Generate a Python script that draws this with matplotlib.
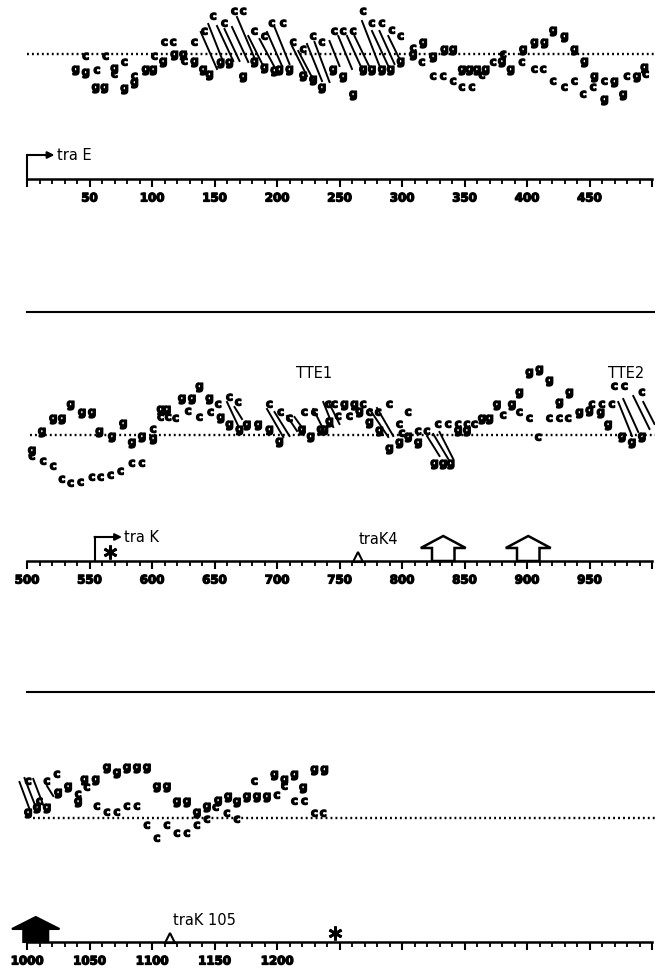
import numpy as np
import matplotlib
matplotlib.use('Agg')
import matplotlib.pyplot as plt
import matplotlib.patheffects as pe
from matplotlib.patches import FancyArrow
from matplotlib.lines import Line2D

# ---- data: position (bp), level above the dotted line, letter ----
p1_pos = [47, 63, 39, 47, 56, 78, 70, 70, 55, 62, 78, 86, 86, 95, 101, 102, 109, 110, 117, 118,
          125, 126, 134, 134, 141, 146, 142, 149, 158, 166, 173, 155, 162, 173, 182, 182, 190, 196, 205, 190,
          198, 202, 210, 213, 221, 221, 229, 236, 229, 236,
          246, 253, 261, 269, 276, 284, 292, 299, 245, 253, 261, 269, 276, 284, 291, 299, 309, 309, 317, 316,
          325, 334, 341, 325, 333, 341, 348, 356, 348, 354, 360, 367, 364, 373, 380, 381, 387, 396, 397, 406,
          413, 406, 414, 421, 430, 438, 446, 421, 430, 438, 445, 453, 454, 462, 470, 462, 477, 480, 488, 495, 494]
p1_lvl = [-2, -2, -15, -18, -16, -8, -14, -20, -33, -33, -34, -28, -22, -15, -15, -2, -7, 12, 12, 0,
          0, -7, -7, 12, -15, -20, 23, 38, 31, 43, 43, -8, -8, -22, -7, 23, 18, 31, 31, -13,
          -16, -15, -15, 12, 5, -21, -25, -33, 18, 12,
          23, 23, 23, 43, 31, 31, 24, 18, -15, -22, -40, -15, -15, -15, -15, -7, 6, 0, 12, -8,
          -2, 5, 5, -22, -22, -27, -33, -33, -15, -15, -15, -15, -21, -8, -7, 0, -15, -8, 5, -15,
          -15, 12, 12, 24, 18, 5, -7, -27, -33, -27, -40, -33, -22, -27, -27, -45, -40, -22, -22, -20, -13]
p1_seq = ("ccggccgcgg" "ggcggcgccg" "gcgcggcccc" "cggggccccg" "gggccgggcc"
          "ccccccccgg" "ggggggcggc" "gggcccccgg" "ggccgcgcgc" "cggggggccc" "ccgcgggcgc" "g")

p2_pos = [512, 521, 528, 535, 544, 552, 558, 568, 577, 584, 592, 601, 601,
          504, 504, 513, 521,
          528, 535, 543, 552, 559, 567, 575,
          584, 592, 607, 612, 607, 613, 619,
          624, 632, 638, 629, 638, 646, 647, 653, 662, 669,
          655, 662, 670, 676, 685, 694, 702, 694, 703, 710,
          722, 730, 720, 727, 735, 741, 746, 754, 762, 769,
          742, 749, 758, 738, 766, 774, 781, 790, 774, 782,
          805, 798, 800, 790, 798, 805, 813, 813, 820,
          826, 833, 839, 829, 837, 845, 852, 858, 845, 852,
          864, 870, 881, 876, 888, 894, 902, 910, 918,
          894, 902, 909, 918, 926, 933,
          926, 934, 942, 950, 959, 952, 960, 968, 965,
          970, 978, 992, 976, 984, 992]
p2_lvl = [4, 17, 17, 31, 23, 23, 4, -1, 12, -7, -1, 6, -3,
          -15, -21, -26, -31,
          -44, -48, -47, -42, -42, -40, -36,
          -28, -28, 26, 26, 18, 18, 17,
          37, 37, 49, 24, 18, 37, 23, 31, 38, 33,
          18, 11, 6, 11, 11, 6, -6, 31, 23, 17,
          23, 23, 6, -1, 6, 31, 31, 31, 31, 31,
          14, 19, 19, 6, 24, 23, 23, 31, 13, 5,
          23, 11, 2, -13, -7, -1, -7, 4, 4,
          -28, -28, -28, 11, 11, 11, 11, 11, 5, 5,
          17, 17, 20, 31, 31, 43, 63, 66, 55,
          23, 17, -2, 17, 17, 17,
          33, 43, 23, 25, 23, 31, 31, 31, 11,
          49, 49, 43, -1, -7, -1]
p2_seq = ("gggggggggggcg" "gccc" "ccccccc" "ccggccc" "gggccgcccc" "gggggggccc"
          "ccgggccggc" "gccggcccgg" "cccggggcc" "gggcccccgg" "ggcgggggg" "cccccc"
          "gggggcccg" "cccggg")

p3_pos = [1001, 1008, 1016, 1010, 1001, 1016, 1024, 1025, 1033, 1041, 1041,
          1046, 1055, 1048, 1064, 1072, 1080, 1088, 1096,
          1056, 1064, 1072, 1080, 1088,
          1104, 1112, 1120, 1128,
          1096, 1104, 1112, 1120, 1128, 1136,
          1136, 1144, 1144, 1151, 1153, 1161, 1168, 1160, 1168,
          1176, 1184, 1192, 1200,
          1182, 1198, 1206, 1214, 1206, 1221,
          1214, 1222, 1230, 1238, 1230, 1237]
p3_lvl = [6, 11, 11, 17, 37, 37, 44, 26, 32, 24, 17,
          39, 39, 31, 51, 46, 51, 51, 51,
          12, 6, 6, 12, 12,
          32, 32, 17, 17,
          -7, -20, -7, -15, -15, -7,
          6, -1, 12, 11, 18, 22, 17, 5, -1,
          22, 22, 22, 23,
          37, 44, 39, 44, 32, 31,
          17, 17, 49, 49, 5, 5]
p3_seq = "gggccccggcg" "ggcggggg" "ccccc" "gggg" "cccccc" "gcgcgggcc" "gggc" "cgggcg" "ccggcc"

# pairing strokes (top end -> bottom end)
h1_x0 = [139, 145, 152, 158, 164, 168, 177, 186, 192, 198, 212, 217, 224, 230, 242, 249, 256, 262, 268, 276, 282, 289]
h1_y0 = [22, 30, 28, 25, 27, 37, 18, 15, 22, 27, 8, 3, 10, 12, 13, 18, 18, 18, 33, 23, 23, 18]
h1_x1 = [152, 157, 165, 170, 177, 183, 189, 198, 204, 210, 224, 230, 236, 242, 250, 260, 268, 274, 282, 289, 294, 298]
h1_y1 = [-15, -8, -7, -7, -8, -7, -12, -13, -12, -10, -22, -28, -27, -28, -12, -15, -15, -13, -12, -12, -10, -5]

h2_x0 = [660, 666, 692, 698, 708, 714, 729, 737, 742, 774, 780, 820, 825, 830, 973, 977, 985, 993]
h2_y0 = [33, 28, 26, 23, 19, 18, 26, 33, 31, 26, 27, -1, 1, 3, 33, 36, 39, 33]
h2_x1 = [669, 672, 705, 710, 716, 722, 737, 745, 750, 789, 793, 830, 837, 841, 984, 989, 998, 1002]
h2_y1 = [9, 16, -2, -1, 4, 4, 6, 8, 11, -2, -1, -21, -24, -24, -1, 3, 6, 11]

h3_x0 = [994, 998, 1005, 1016]
h3_y0 = [36, 40, 39, 32]
h3_x1 = [1002, 1007, 1013, 1021]
h3_y1 = [9, 11, 13, 22]

# map features
panel_start = [0, 500, 1000]
tick_labels = [['', '50', '100', '150', '200', '250', '300', '350', '400', '450', ''],
               ['500', '550', '600', '650', '700', '750', '800', '850', '900', '950', ''],
               ['1000', '1050', '1100', '1150', '1200', '', '', '', '', '', '']]
promoter_pos = [0, 554]
promoter_name = ['tra E', 'tra K']
site_pos = [765, 1114]
site_name = ['traK4', 'traK 105']
site_label_pos = [781, 1142]
open_arrow_pos = [833, 901]
filled_arrow_pos = [1007]
star_pos = [566, 1246]
tte_name = ['TTE1', 'TTE2']
tte_pos = [730, 965]

# ---- layout (pixels) ----
W, H = 655, 970
X0, X1 = 27, 652
baselines = [55, 436, 819]
rulers = [180, 562, 943]
separators = [313, 693]
dot_start = [0, 502, 1005]

fig = plt.figure(figsize=(W / 100, H / 100), dpi=100)
fig.patch.set_facecolor('white')


def px_rect(top, height):
    return [X0 / W, 1 - (top + height) / H, (X1 - X0) / W, height / H]


thick = [pe.withStroke(linewidth=0.9, foreground='k')]
letter_font = dict(family='DejaVu Sans', weight='bold', size=8.5)
label_font = dict(family='DejaVu Sans', size=10.5)

panels = [(p1_pos, p1_lvl, p1_seq, (h1_x0, h1_y0, h1_x1, h1_y1)),
          (p2_pos, p2_lvl, p2_seq, (h2_x0, h2_y0, h2_x1, h2_y1)),
          (p3_pos, p3_lvl, p3_seq, (h3_x0, h3_y0, h3_x1, h3_y1))]

axes_r = []
for i, (pos, lvl, seq, hatch) in enumerate(panels):
    s = panel_start[i]
    # sequence panel
    ax = fig.add_axes(px_rect(baselines[i] - 70, 125))
    ax.set_xlim(s, s + 500)
    ax.set_ylim(-55, 70)
    ax.axis('off')
    ax.plot([dot_start[i], s + 502], [0, 0], color='k', lw=1.7,
            ls=(0, (0.8, 1.3)), clip_on=False)
    for xa, ya, xb, yb in zip(*hatch):
        ax.plot([xa, xb], [ya, yb], color='k', lw=1.4, clip_on=False)
    for x, y, ch in zip(pos, lvl, seq):
        ax.text(x, y, ch, ha='center', va='center', clip_on=False,
                path_effects=thick, **letter_font)
    if i == 1:
        ax.text(tte_pos[0], 63, tte_name[0], ha='center', va='center', **label_font)
        ax.text(tte_pos[1], 63, tte_name[1], ha='left', va='center',
                clip_on=False, **label_font)

    # ruler
    ar = fig.add_axes(px_rect(rulers[i] - 40, 40))
    ar.set_xlim(s, s + 500)
    ar.set_ylim(0, 40)
    for side in ['top', 'left', 'right']:
        ar.spines[side].set_visible(False)
    ar.spines['bottom'].set_linewidth(1.8)
    ar.set_yticks([])
    ar.set_xticks(np.arange(s, s + 501, 50))
    ar.set_xticks(np.arange(s, s + 501, 10), minor=True)
    ar.set_xticklabels(tick_labels[i], fontweight='bold', fontsize=8.5)
    for lbl in ar.get_xticklabels():
        lbl.set_path_effects(thick)
    ar.tick_params(axis='x', which='major', direction='out', length=6, width=1.5, pad=3)
    ar.tick_params(axis='x', which='minor', direction='out', length=3.5, width=1.3)
    ar.patch.set_alpha(0)
    axes_r.append(ar)

# promoters
for x, name in zip(promoter_pos, promoter_name):
    ar = axes_r[0] if x < 500 else axes_r[1]
    ar.plot([x, x], [0, 24], color='k', lw=1.5, clip_on=False)
    ar.annotate('', xy=(x + 22, 24), xytext=(x, 24),
                arrowprops=dict(arrowstyle='-|>', color='k', lw=1.5,
                                shrinkA=0, shrinkB=0, mutation_scale=10))
    ar.text(x + 24, 24, name, ha='left', va='center', **label_font)

# sites (open triangles)
for x, name, lx in zip(site_pos, site_name, site_label_pos):
    ar = axes_r[1] if x < 1000 else axes_r[2]
    ar.plot(x, 4, marker='^', ms=7, mfc='white', mec='k', mew=1.5, clip_on=False)
    ar.text(lx, 22, name, ha='center', va='center', **label_font)

# block arrows
for x in open_arrow_pos:
    axes_r[1].add_patch(FancyArrow(x, 0, 0, 25, width=18, head_width=36, head_length=12,
                                   length_includes_head=True, fc='white', ec='k', lw=1.8,
                                   clip_on=False))
for x in filled_arrow_pos:
    axes_r[2].add_patch(FancyArrow(x, 0, 0, 25, width=20, head_width=38, head_length=12,
                                   length_includes_head=True, fc='k', ec='k', lw=1.5,
                                   clip_on=False))

# stop codons
for x in star_pos:
    ar = axes_r[1] if x < 1000 else axes_r[2]
    ar.plot(x, 9, marker=(6, 2, 0), ms=10, mec='k', mew=2, clip_on=False)

# separators between panels
for y in separators:
    fig.add_artist(Line2D([X0 / W, 1], [1 - y / H, 1 - y / H], color='k', lw=1.5))

fig.savefig('out.png', dpi=100, facecolor='white')
